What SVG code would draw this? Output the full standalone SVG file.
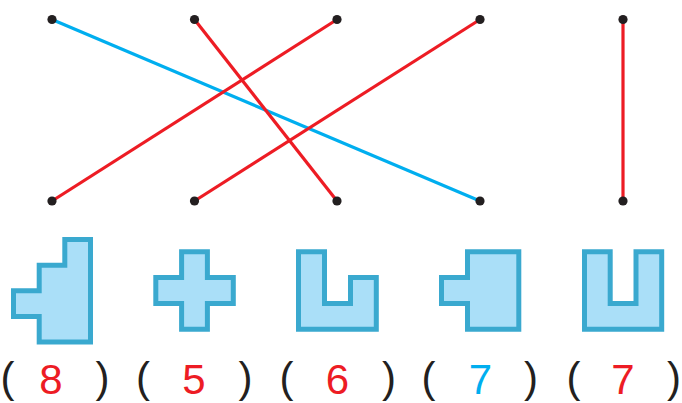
<svg xmlns="http://www.w3.org/2000/svg" width="682" height="403" viewBox="0 0 682 403">
<style>
.dot{fill:#231f20}
.blue{stroke:#00aeef;stroke-width:3.2;fill:none}
.red{stroke:#ed1c24;stroke-width:3.2;fill:none}
.shape{fill:#aadff8;stroke:#3aa9cf;stroke-width:5;stroke-linejoin:miter}
.par{font-family:"Liberation Sans",Arial,sans-serif;font-size:42px;fill:#231f20;text-anchor:middle}
.num{font-family:"Liberation Sans",Arial,sans-serif;font-size:42px;text-anchor:middle}
</style>
<rect width="682" height="403" fill="#ffffff"/>
<g id="connectors">
<line class="blue" x1="52" y1="19.5" x2="480" y2="201"/>
<line class="red" x1="194.5" y1="19.5" x2="337" y2="201"/>
<line class="red" x1="337" y1="19.5" x2="52" y2="201"/>
<line class="red" x1="480" y1="19.5" x2="194.5" y2="201"/>
<line class="red" x1="623" y1="19.5" x2="623" y2="201"/>
</g>
<g id="top-dots">
<circle id="t1" class="dot" cx="52" cy="19.5" r="4.6"/>
<circle id="t2" class="dot" cx="194.5" cy="19.5" r="4.6"/>
<circle id="t3" class="dot" cx="337" cy="19.5" r="4.6"/>
<circle id="t4" class="dot" cx="480" cy="19.5" r="4.6"/>
<circle id="t5" class="dot" cx="623" cy="19.5" r="4.6"/>
</g>
<g id="bottom-dots">
<circle id="b1" class="dot" cx="52" cy="201" r="4.6"/>
<circle id="b2" class="dot" cx="194.5" cy="201" r="4.6"/>
<circle id="b3" class="dot" cx="337" cy="201" r="4.6"/>
<circle id="b4" class="dot" cx="480" cy="201" r="4.6"/>
<circle id="b5" class="dot" cx="623" cy="201" r="4.6"/>
</g>
<g id="shape1"><path class="shape" d="M64.8,239.5 H90.5 V342 H39.2 V316.5 H13.5 V290.8 H39.2 V265.2 H64.8 Z"/></g>
<g id="shape2"><path class="shape" d="M181.6,251.8 H207.4 V277.6 H233.3 V303.5 H207.4 V329.3 H181.6 V303.5 H155.8 V277.6 H181.6 Z"/></g>
<g id="shape3"><path class="shape" d="M298.5,251.8 H324.5 V303.5 H350.5 V277.6 H376.3 V329.3 H298.5 Z"/></g>
<g id="shape4"><path class="shape" d="M467.5,251.8 H518.8 V329.3 H467.5 V303.5 H441.5 V277.6 H467.5 Z"/></g>
<g id="shape5"><path class="shape" d="M584.5,251.8 H610.2 V303.5 H636 V251.8 H661.7 V329.3 H584.5 Z"/></g>
<g id="answers">
<text class="par" x="7.5" y="392">(</text>
<text class="par" x="102.5" y="392">)</text>
<text class="par" x="143" y="392">(</text>
<text class="par" x="245.5" y="392">)</text>
<text class="par" x="286.5" y="392">(</text>
<text class="par" x="389" y="392">)</text>
<text class="par" x="428.5" y="392">(</text>
<text class="par" x="531" y="392">)</text>
<text class="par" x="573.5" y="392">(</text>
<text class="par" x="674" y="392">)</text>
<text class="num" x="51" y="394" fill="#ed1c24">8</text>
<text class="num" x="194" y="394" fill="#ed1c24">5</text>
<text class="num" x="337.5" y="394" fill="#ed1c24">6</text>
<text class="num" x="480.5" y="394" fill="#00aeef">7</text>
<text class="num" x="623" y="394" fill="#ed1c24">7</text>
</g>
</svg>
